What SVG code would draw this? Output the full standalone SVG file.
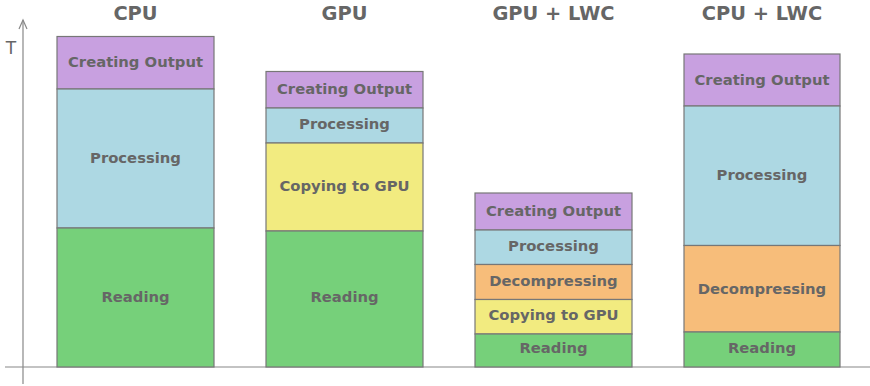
<svg xmlns="http://www.w3.org/2000/svg" width="870" height="386" viewBox="0 0 870 386">
<style>
.t{font-family:"DejaVu Sans",sans-serif;font-weight:bold;fill:#666;text-anchor:middle}
.title{font-size:19.4px}
.lbl{font-size:14.8px}
rect{stroke:#777;stroke-width:1.2}
.o{fill:#c8a0e0}.p{fill:#add8e3}.r{fill:#76d07a}.c{fill:#f2eb80}.d{fill:#f7bd7a}
.ax{stroke:#888;stroke-width:1.2;fill:none}
</style>
<g id="axes">
<line class="ax" x1="23" y1="20" x2="23" y2="384"/>
<polyline class="ax" points="19,29 23,20 27,29"/>
<line class="ax" x1="5" y1="367" x2="870" y2="367"/>
<text x="11" y="54" font-family="DejaVu Sans,sans-serif" font-size="17" fill="#666" text-anchor="middle">T</text>
</g>
<g id="cpu">
<text class="t title" x="135.5" y="19.5">CPU</text>
<rect class="o" x="57" y="36.5" width="157" height="52.5"/>
<rect class="p" x="57" y="89" width="157" height="139"/>
<rect class="r" x="57" y="228" width="157" height="139"/>
<text class="t lbl" x="135.5" y="66.5">Creating Output</text>
<text class="t lbl" x="135.5" y="162.5">Processing</text>
<text class="t lbl" x="135.5" y="301.5">Reading</text>
</g>
<g id="gpu">
<text class="t title" x="344.5" y="19.5">GPU</text>
<rect class="o" x="266" y="71.5" width="157" height="36.5"/>
<rect class="p" x="266" y="108" width="157" height="35"/>
<rect class="c" x="266" y="143" width="157" height="88"/>
<rect class="r" x="266" y="231" width="157" height="136"/>
<text class="t lbl" x="344.5" y="93.5">Creating Output</text>
<text class="t lbl" x="344.5" y="129">Processing</text>
<text class="t lbl" x="344.5" y="190.5">Copying to GPU</text>
<text class="t lbl" x="344.5" y="301.5">Reading</text>
</g>
<g id="gpu-lwc">
<text class="t title" x="553.5" y="19.5">GPU + LWC</text>
<rect class="o" x="475" y="193" width="157" height="37"/>
<rect class="p" x="475" y="230" width="157" height="34.5"/>
<rect class="d" x="475" y="264.5" width="157" height="35"/>
<rect class="c" x="475" y="299.5" width="157" height="34.5"/>
<rect class="r" x="475" y="334" width="157" height="33"/>
<text class="t lbl" x="553.5" y="215.5">Creating Output</text>
<text class="t lbl" x="553.5" y="250.5">Processing</text>
<text class="t lbl" x="553.5" y="285.5">Decompressing</text>
<text class="t lbl" x="553.5" y="320">Copying to GPU</text>
<text class="t lbl" x="553.5" y="353">Reading</text>
</g>
<g id="cpu-lwc">
<text class="t title" x="762" y="19.5">CPU + LWC</text>
<rect class="o" x="684" y="54" width="156" height="52"/>
<rect class="p" x="684" y="106" width="156" height="139.5"/>
<rect class="d" x="684" y="245.5" width="156" height="86.5"/>
<rect class="r" x="684" y="332" width="156" height="35"/>
<text class="t lbl" x="762" y="84.5">Creating Output</text>
<text class="t lbl" x="762" y="179.5">Processing</text>
<text class="t lbl" x="762" y="293.5">Decompressing</text>
<text class="t lbl" x="762" y="353">Reading</text>
</g>
</svg>
